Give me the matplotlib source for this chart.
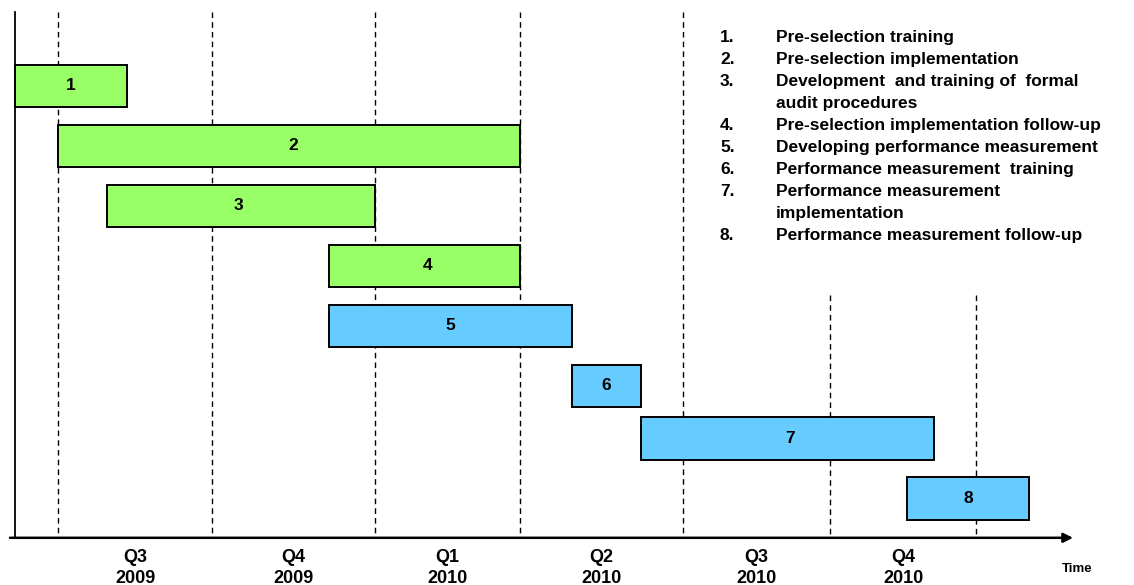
import numpy as np
import matplotlib.pyplot as plt

plt.rcParams['font.family'] = ['Liberation Sans', 'DejaVu Sans']

# activities: number, start and end in quarters (0 = start of Q3 2009)
tasks = ["1", "2", "3", "4", "5", "6", "7", "8"]
starts = [-0.28, 0.0, 0.32, 1.72, 1.72, 3.32, 3.74, 5.53]
ends = [0.45, 3.0, 2.0, 3.0, 3.32, 3.74, 5.71, 6.36]
phase = ["pre", "pre", "pre", "pre", "perf", "perf", "perf", "perf"]

quarters = ["Q3\n2009", "Q4\n2009", "Q1\n2010", "Q2\n2010", "Q3\n2010", "Q4\n2010"]

descriptions = [
    ("1.", "Pre-selection training"),
    ("2.", "Pre-selection implementation"),
    ("3.", "Development  and training of  formal\naudit procedures"),
    ("4.", "Pre-selection implementation follow-up"),
    ("5.", "Developing performance measurement"),
    ("6.", "Performance measurement  training"),
    ("7.", "Performance measurement\nimplementation"),
    ("8.", "Performance measurement follow-up"),
]

colors = {"pre": "#99FF66", "perf": "#66CCFF"}

# quarter widths on the page are not all equal, so map quarters
# to page columns piecewise
q_knots = np.arange(-1, 9)
px_knots = np.array([-96, 58, 212, 375, 520, 683, 830, 976, 1122, 1268],
                    dtype=float)


def fwd(q):
    return np.interp(q, q_knots, px_knots)


def inv(p):
    return np.interp(p, px_knots, q_knots)


# lane positions (row 7 sits a bit closer to row 6)
lanes = [0, 1, 2, 3, 4, 5, 5.87, 6.87]
bar_h = 0.71

fig = plt.figure(figsize=(11.34, 5.85), dpi=100)
ax = fig.add_axes([0, 0, 1, 1])
ax.set_xscale("function", functions=(fwd, inv))
ax.set_xlim(inv(0), inv(1134))
ax.set_ylim((585 - 86) / 60, -86 / 60)
ax.axis("off")

base = 7.53   # time axis
top = -1.23
y_left = -0.28

# quarter boundaries
for q in range(7):
    y0 = top if q < 5 else 3.48
    ax.plot([q, q], [y0, base], color="black", lw=1, ls=(0, (4, 3)), zorder=1)

# axes
ax.plot([y_left, y_left], [top, base], color="black", lw=1.3, zorder=2)
ax.annotate("", xy=(inv(1073), base), xytext=(inv(10), base),
            arrowprops=dict(arrowstyle="-|>", color="black", lw=1.8,
                            mutation_scale=14, shrinkA=0, shrinkB=0))

for i, t in enumerate(tasks):
    ax.barh(lanes[i], ends[i] - starts[i], left=starts[i], height=bar_h,
            color=colors[phase[i]], edgecolor="black", lw=1.4, zorder=3)
    ax.text((starts[i] + ends[i]) / 2, lanes[i], t, ha="center", va="center",
            fontsize=12.5, fontweight="bold", zorder=4)

for i, q in enumerate(quarters):
    top_line, year = q.split("\n")
    ax.text(i + 0.5, (562 - 86) / 60, top_line, ha="center", va="baseline",
            fontsize=13, fontweight="bold")
    ax.text(i + 0.5, (583 - 86) / 60, year, ha="center", va="baseline",
            fontsize=13, fontweight="bold")

ax.text(inv(1077), (572 - 86) / 60, "Time", ha="center", va="baseline",
        fontsize=9.5, fontweight="bold")

# description list
y = 42
for num, desc in descriptions:
    fig.text(720 / 1134, 1 - y / 585, num, ha="left", va="baseline",
             fontsize=12.5, fontweight="bold")
    for k, line in enumerate(desc.split("\n")):
        fig.text(776 / 1134, 1 - (y + 22 * k) / 585, line, ha="left",
                 va="baseline", fontsize=12.5, fontweight="bold")
    y += 22 * (desc.count("\n") + 1)

fig.savefig("out.png", dpi=100)
